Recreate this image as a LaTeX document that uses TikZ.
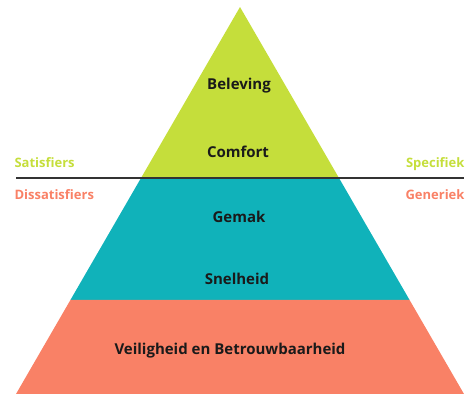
\documentclass[tikz,border=0pt]{standalone}
\usepackage{fontspec}
\setmainfont{Open Sans}
\usetikzlibrary{calc}
\definecolor{lime}{RGB}{197,222,59}
\definecolor{tealblue}{RGB}{16,178,186}
\definecolor{salmon}{RGB}{249,129,102}
\definecolor{inkt}{RGB}{26,26,26}
\tikzset{
    %Define style for the level labels
    niveau/.style={
           anchor=base,
           text=inkt,
           font=\fontsize{15}{17}\selectfont\bfseries},
    % Define style for the side labels
    zijlabel/.style={
           font=\fontsize{13}{15}\selectfont\bfseries},
    % Define style for the dividing line
    scheiding/.style={
           draw=black!80,
           line width=1.3pt}
}
\begin{document}
\begin{tikzpicture}[x=1pt, y=-1pt]
	\useasboundingbox (0,0) rectangle (467,394);
	%
	% hoekpunten
	%
	\coordinate (top) at (240,7);
	\coordinate (links) at (16,394);
	\coordinate (rechts) at (464,394);
	\coordinate (l1) at ($(top)!0.4419!(links)$);
	\coordinate (r1) at ($(top)!0.4419!(rechts)$);
	\coordinate (l2) at ($(top)!0.7571!(links)$);
	\coordinate (r2) at ($(top)!0.7571!(rechts)$);
	%
	% lagen
	%
	\fill[lime] (top) -- (r1) -- (l1) -- cycle;
	\fill[tealblue] (l1) -- (r1) -- (r2) -- (l2) -- cycle;
	\fill[salmon] (l2) -- (r2) -- (rechts) -- (links) -- cycle;
	%
	% scheidingslijn
	%
	\coordinate (lijnL) at (16,178);
	\coordinate (lijnR) at (464,178);
	\draw[scheiding] (lijnL) -- (lijnR);
	%
	% noeuds
	%
	\node[niveau] (beleving) at (239,89) {Beleving};
	\node[niveau] (comfort) at (238,157) {Comfort};
	\node[niveau] (gemak) at (239,222) {Gemak};
	\node[niveau] (snelheid) at (237,284) {Snelheid};
	\node[niveau] (veilig) at (230,354) {Veiligheid en Betrouwbaarheid};
	%
	% zijlabels
	%
	\node[zijlabel, anchor=base west, text=lime] (satis) at (11,167) {Satisfiers};
	\node[zijlabel, anchor=base west, text=salmon] (dissatis) at (11,199) {Dissatisfiers};
	\node[zijlabel, anchor=base east, text=lime] (spec) at (468,167) {Specifiek};
	\node[zijlabel, anchor=base east, text=salmon] (gener) at (468,199) {Generiek};
\end{tikzpicture}
\end{document}
